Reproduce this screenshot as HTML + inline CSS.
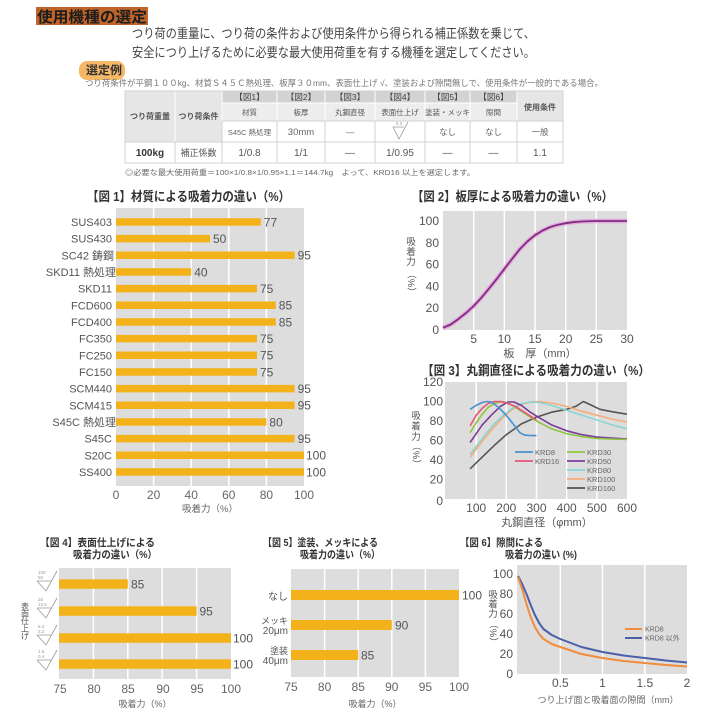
<!DOCTYPE html>
<html><head><meta charset="utf-8"><style>
html,body{margin:0;padding:0;background:#fff;}
svg{display:block;font-family:"Liberation Sans","Noto Sans CJK JP",sans-serif;}
</style></head><body>
<svg width="713" height="713" viewBox="0 0 713 713" xmlns="http://www.w3.org/2000/svg">
<rect width="713" height="713" fill="#fff"/>

<!-- Header -->
<rect x="36" y="7" width="112" height="18" fill="#c0652a"/>
<text x="37" y="22" font-size="15" font-weight="700" fill="#1c1c1c" textLength="110" lengthAdjust="spacingAndGlyphs">使用機種の選定</text>
<text x="132" y="38" font-size="13" fill="#444" textLength="403" lengthAdjust="spacingAndGlyphs">つり荷の重量に、つり荷の条件および使用条件から得られる補正係数を乗じて、</text>
<text x="132" y="57" font-size="13" fill="#444" textLength="403" lengthAdjust="spacingAndGlyphs">安全につり上げるために必要な最大使用荷重を有する機種を選定してください。</text>
<rect x="79" y="61" width="46" height="19" rx="8" fill="#f6b866"/>
<text x="86" y="74" font-size="11.5" font-weight="700" fill="#333" textLength="36" lengthAdjust="spacingAndGlyphs">選定例</text>
<text x="85" y="86" font-size="8.5" fill="#777" textLength="518" lengthAdjust="spacingAndGlyphs">つり荷条件が平鋼１００kg、材質Ｓ４５Ｃ熱処理、板厚３０mm、表面仕上げ √、塗装および隙間無しで、使用条件が一般的である場合。</text>

<!-- Table -->
<g>
<rect x="125" y="91" width="97" height="51" fill="#e6e6e6"/>
<rect x="222" y="91" width="295" height="12" fill="#d3d3d3"/>
<rect x="222" y="103" width="295" height="18" fill="#ededed"/>
<rect x="517" y="91" width="46" height="30" fill="#e6e6e6"/>
<g stroke="#fff" stroke-width="1">
<line x1="175" y1="91" x2="175" y2="142"/>
<line x1="222" y1="91" x2="222" y2="121"/>
<line x1="277" y1="91" x2="277" y2="121"/>
<line x1="325" y1="91" x2="325" y2="121"/>
<line x1="375" y1="91" x2="375" y2="121"/>
<line x1="425" y1="91" x2="425" y2="121"/>
<line x1="470" y1="91" x2="470" y2="121"/>
<line x1="517" y1="91" x2="517" y2="121"/>
<line x1="222" y1="103" x2="517" y2="103"/>
</g>
<g stroke="#d2d2d2" stroke-width="1" fill="none">
<rect x="125" y="91" width="438" height="72"/>
<line x1="125" y1="142" x2="563" y2="142"/>
<line x1="222" y1="121" x2="563" y2="121"/>
<line x1="175" y1="142" x2="175" y2="163"/>
<line x1="222" y1="121" x2="222" y2="163"/>
<line x1="277" y1="121" x2="277" y2="163"/>
<line x1="325" y1="121" x2="325" y2="163"/>
<line x1="375" y1="121" x2="375" y2="163"/>
<line x1="425" y1="121" x2="425" y2="163"/>
<line x1="470" y1="121" x2="470" y2="163"/>
<line x1="517" y1="121" x2="517" y2="163"/>
</g>
<g font-size="8.5" fill="#444" text-anchor="middle">
<text x="249.5" y="100">【図1】</text>
<text x="301" y="100">【図2】</text>
<text x="350" y="100">【図3】</text>
<text x="400" y="100">【図4】</text>
<text x="447.5" y="100">【図5】</text>
<text x="493.5" y="100">【図6】</text>
</g>
<g font-size="7.5" fill="#555" text-anchor="middle">
<text x="249.5" y="115">材質</text>
<text x="301" y="115">板厚</text>
<text x="350" y="115">丸鋼直径</text>
<text x="400" y="115">表面仕上げ</text>
<text x="447.5" y="115">塗装・メッキ</text>
<text x="493.5" y="115">隙間</text>
</g>
<g font-size="8" font-weight="700" fill="#555" text-anchor="middle">
<text x="150" y="119">つり荷重量</text>
<text x="198.5" y="119">つり荷条件</text>
<text x="540" y="110">使用条件</text>
</g>
<g font-size="8.5" fill="#666" text-anchor="middle">
<text x="249.5" y="135" font-size="7.5">S45C 熱処理</text>
<text x="301" y="135" font-size="9.5">30mm</text>
<text x="350" y="135">—</text>
<text x="447.5" y="135">なし</text>
<text x="493.5" y="135">なし</text>
<text x="540" y="135">一般</text>
</g>
<path d="M393,127 L399,139 L408,122 M393,127 L404,127" stroke="#999" stroke-width="0.8" fill="none"/>
<text x="396" y="125" font-size="4.5" fill="#999">6.3</text>
<g font-size="10" fill="#555" text-anchor="middle">
<text x="150" y="156" font-weight="700" fill="#333">100kg</text>
<text x="198.5" y="156" font-size="9">補正係数</text>
<text x="249.5" y="156">1/0.8</text>
<text x="301" y="156">1/1</text>
<text x="350" y="156">—</text>
<text x="400" y="156">1/0.95</text>
<text x="447.5" y="156">—</text>
<text x="493.5" y="156">—</text>
<text x="540" y="156">1.1</text>
</g>
<text x="125" y="175" font-size="7.5" fill="#666" textLength="350" lengthAdjust="spacingAndGlyphs">◎必要な最大使用荷重＝100×1/0.8×1/0.95×1.1＝144.7kg　よって、KRD16 以上を選定します。</text>
</g>

<!-- Fig 1 -->
<text x="87" y="201" font-size="13" font-weight="700" fill="#333" textLength="203" lengthAdjust="spacingAndGlyphs">【図 1】材質による吸着力の違い（%）</text>
<rect x="116" y="208" width="188" height="278" fill="#dddddd"/>
<g stroke="#fff" stroke-width="1.5">
<line x1="153.6" y1="208" x2="153.6" y2="486"/>
<line x1="191.2" y1="208" x2="191.2" y2="486"/>
<line x1="228.8" y1="208" x2="228.8" y2="486"/>
<line x1="266.4" y1="208" x2="266.4" y2="486"/>
</g>
<g fill="#f3b21a">
<rect x="116" y="218.2" width="144.8" height="7.5"/>
<rect x="116" y="234.9" width="94" height="7.5"/>
<rect x="116" y="251.5" width="178.6" height="7.5"/>
<rect x="116" y="268.2" width="75.2" height="7.5"/>
<rect x="116" y="284.9" width="141" height="7.5"/>
<rect x="116" y="301.5" width="159.8" height="7.5"/>
<rect x="116" y="318.2" width="159.8" height="7.5"/>
<rect x="116" y="334.9" width="141" height="7.5"/>
<rect x="116" y="351.5" width="141" height="7.5"/>
<rect x="116" y="368.2" width="141" height="7.5"/>
<rect x="116" y="384.9" width="178.6" height="7.5"/>
<rect x="116" y="401.5" width="178.6" height="7.5"/>
<rect x="116" y="418.2" width="150.4" height="7.5"/>
<rect x="116" y="434.9" width="178.6" height="7.5"/>
<rect x="116" y="451.5" width="188" height="7.5"/>
<rect x="116" y="468.2" width="188" height="7.5"/>
</g>
<g font-size="12" fill="#555">
<text x="263.8" y="226.3">77</text>
<text x="213" y="243">50</text>
<text x="297.6" y="259.6">95</text>
<text x="194.2" y="276.3">40</text>
<text x="260" y="293">75</text>
<text x="278.8" y="309.6">85</text>
<text x="278.8" y="326.3">85</text>
<text x="260" y="343">75</text>
<text x="260" y="359.6">75</text>
<text x="260" y="376.3">75</text>
<text x="297.6" y="393">95</text>
<text x="297.6" y="409.6">95</text>
<text x="269.4" y="426.3">80</text>
<text x="297.6" y="443">95</text>
<text x="306" y="459.6">100</text>
<text x="306" y="476.3">100</text>
</g>
<g font-size="11" fill="#555" text-anchor="end">
<text x="112" y="226">SUS403</text>
<text x="112" y="242.7">SUS430</text>
<text x="114" y="259.3">SC42 鋳鋼</text>
<text x="116" y="276">SKD11 熱処理</text>
<text x="112" y="292.7">SKD11</text>
<text x="112" y="309.3">FCD600</text>
<text x="112" y="326">FCD400</text>
<text x="112" y="342.7">FC350</text>
<text x="112" y="359.3">FC250</text>
<text x="112" y="376">FC150</text>
<text x="112" y="392.7">SCM440</text>
<text x="112" y="409.3">SCM415</text>
<text x="116" y="426">S45C 熱処理</text>
<text x="112" y="442.7">S45C</text>
<text x="112" y="459.3">S20C</text>
<text x="112" y="476">SS400</text>
</g>
<g font-size="12" fill="#666" text-anchor="middle">
<text x="116" y="499">0</text>
<text x="153.6" y="499">20</text>
<text x="191.2" y="499">40</text>
<text x="228.8" y="499">60</text>
<text x="266.4" y="499">80</text>
<text x="304" y="499">100</text>
</g>
<text x="210" y="512" font-size="9.5" fill="#666" text-anchor="middle">吸着力（%）</text>

<!-- Fig 2 -->
<text x="412" y="201" font-size="13" font-weight="700" fill="#333" textLength="201" lengthAdjust="spacingAndGlyphs">【図 2】板厚による吸着力の違い（%）</text>
<rect x="443" y="211" width="184" height="119" fill="#dddddd"/>
<g stroke="#fff" stroke-width="1.5">
<line x1="473.7" y1="211" x2="473.7" y2="330"/>
<line x1="504.3" y1="211" x2="504.3" y2="330"/>
<line x1="535" y1="211" x2="535" y2="330"/>
<line x1="565.7" y1="211" x2="565.7" y2="330"/>
<line x1="596.3" y1="211" x2="596.3" y2="330"/>
</g>
<polyline points="443,327.8 450.7,324.5 458.3,319.1 466,313 473.7,306 481.3,297.8 489,288.6 496.7,279 504.3,269 512,259 519.7,249.3 527.3,241.5 535,235.2 542.7,230.5 550.3,227 558,224.7 565.7,223.2 573.3,222.2 581,221.5 596.3,221 627,221" fill="none" stroke="#e6a8de" stroke-width="4.5" stroke-linejoin="round"/>
<polyline points="443,327.8 450.7,324.5 458.3,319.1 466,313 473.7,306 481.3,297.8 489,288.6 496.7,279 504.3,269 512,259 519.7,249.3 527.3,241.5 535,235.2 542.7,230.5 550.3,227 558,224.7 565.7,223.2 573.3,222.2 581,221.5 596.3,221 627,221" fill="none" stroke="#7d2f7d" stroke-width="1.8" stroke-linejoin="round"/>
<g font-size="12" fill="#555" text-anchor="end">
<text x="439" y="225">100</text>
<text x="439" y="246.8">80</text>
<text x="439" y="268.6">60</text>
<text x="439" y="290.4">40</text>
<text x="439" y="312.2">20</text>
<text x="439" y="334">0</text>
</g>
<g font-size="12" fill="#555" text-anchor="middle">
<text x="473.7" y="343">5</text>
<text x="504.3" y="343">10</text>
<text x="535" y="343">15</text>
<text x="565.7" y="343">20</text>
<text x="596.3" y="343">25</text>
<text x="627" y="343">30</text>
</g>
<text x="540" y="357" font-size="11" fill="#555" text-anchor="middle">板　厚（mm）</text>
<g font-size="9.5" fill="#555" text-anchor="middle">
<text x="411" y="245">吸</text>
<text x="411" y="255">着</text>
<text x="411" y="265">力</text>
<text transform="translate(411,283) rotate(90)" y="3">（%）</text>
</g>

<!-- Fig 3 -->
<text x="422" y="375" font-size="13" font-weight="700" fill="#333" textLength="228" lengthAdjust="spacingAndGlyphs">【図 3】丸鋼直径による吸着力の違い（%）</text>
<rect x="445" y="382" width="182" height="117" fill="#dddddd"/>
<g stroke="#fff" stroke-width="1.5">
<line x1="476.2" y1="382" x2="476.2" y2="499"/>
<line x1="506.3" y1="382" x2="506.3" y2="499"/>
<line x1="536.5" y1="382" x2="536.5" y2="499"/>
<line x1="566.7" y1="382" x2="566.7" y2="499"/>
<line x1="596.9" y1="382" x2="596.9" y2="499"/>
</g>
<g fill="none" stroke-width="1.6" stroke-linejoin="round">
<polyline stroke="#555555" points="470.1,468.8 482.2,457.1 494.3,445.4 506.3,434.7 521.4,423.9 536.5,417.1 551.6,412.2 566.7,409.3 575.7,406.4 583.3,401.5 587.8,403.5 593.8,406.4 599.9,409.3 611.9,411.7 627,414.2"/>
<polyline stroke="#f6ab7d" points="470.1,457.1 476.2,449.3 485.2,437.6 494.3,426.9 503.3,417.1 512.4,409.3 521.4,404.4 530.5,402 539.5,401.5 551.6,403 566.7,406.4 581.8,411.3 596.9,415.2 611.9,419.1 627,422"/>
<polyline stroke="#8ad4d4" points="470.1,454.2 476.2,446.4 485.2,434.7 494.3,423.9 503.3,415.2 512.4,408.3 521.4,403.5 530.5,402 539.5,402.5 551.6,405.4 566.7,410.3 581.8,415.2 596.9,420 611.9,424.9 627,428.8"/>
<polyline stroke="#7a3d9a" points="470.1,442.5 476.2,433.7 482.2,424.9 491.3,415.2 500.3,406.4 507.8,402 513.9,402 521.4,405.4 529,411.3 536.5,416.1 551.6,424.9 566.7,430.8 581.8,434.7 596.9,437.1 627,439"/>
<polyline stroke="#8dc63f" points="470.1,432.7 476.2,423 482.2,414.2 488.2,407.4 494.3,403.5 501.8,401.5 509.4,403.5 518.4,409.3 527.5,415.2 536.5,421 551.6,428.8 566.7,433.7 581.8,436.6 596.9,438.6 627,439.5"/>
<polyline stroke="#e8557a" points="470.1,425.9 476.2,415.2 482.2,408.3 488.2,403.5 494.3,401.5 500.3,401.5 506.3,403 515.4,406.4 524.4,412.2 536.5,420"/>
<polyline stroke="#4a90d0" points="470.1,409.3 476.2,405.4 482.2,402.5 486.7,401.5 491.3,402 497.3,406.4 503.3,412.2 509.4,419.1 515.4,426.9 519.9,432.7 524.4,435.1 530.5,435.6 536.5,435.6"/>
</g>
<g stroke-width="1.8">
<line x1="515" y1="452" x2="533" y2="452" stroke="#4a90d0"/>
<line x1="515" y1="461" x2="533" y2="461" stroke="#e8557a"/>
<line x1="567" y1="452" x2="585" y2="452" stroke="#8dc63f"/>
<line x1="567" y1="461" x2="585" y2="461" stroke="#7a3d9a"/>
<line x1="567" y1="470" x2="585" y2="470" stroke="#8ad4d4"/>
<line x1="567" y1="479" x2="585" y2="479" stroke="#f6ab7d"/>
<line x1="567" y1="488" x2="585" y2="488" stroke="#555555"/>
</g>
<g font-size="7.5" fill="#666">
<text x="535" y="455">KRD8</text>
<text x="535" y="464">KRD16</text>
<text x="587" y="455">KRD30</text>
<text x="587" y="464">KRD50</text>
<text x="587" y="473">KRD80</text>
<text x="587" y="482">KRD100</text>
<text x="587" y="491">KRD160</text>
</g>
<g font-size="12" fill="#555" text-anchor="end">
<text x="443" y="386">120</text>
<text x="443" y="405.5">100</text>
<text x="443" y="425">80</text>
<text x="443" y="444.5">60</text>
<text x="443" y="464">40</text>
<text x="443" y="483.5">20</text>
<text x="443" y="505">0</text>
</g>
<g font-size="12" fill="#555" text-anchor="middle">
<text x="476.2" y="512">100</text>
<text x="506.3" y="512">200</text>
<text x="536.5" y="512">300</text>
<text x="566.7" y="512">400</text>
<text x="596.9" y="512">500</text>
<text x="627" y="512">600</text>
</g>
<text x="547" y="526" font-size="11" fill="#555" text-anchor="middle">丸鋼直径（φmm）</text>
<g font-size="9.5" fill="#555" text-anchor="middle">
<text x="416" y="419">吸</text>
<text x="416" y="429.5">着</text>
<text x="416" y="440">力</text>
<text transform="translate(416,455) rotate(90)" y="3">（%）</text>
</g>

<!-- Fig 4 -->
<text x="40" y="546" font-size="10.5" font-weight="700" fill="#333" textLength="115" lengthAdjust="spacingAndGlyphs">【図 4】表面仕上げによる</text>
<text x="73" y="558" font-size="10.5" font-weight="700" fill="#333" textLength="84" lengthAdjust="spacingAndGlyphs">吸着力の違い（%）</text>
<rect x="59" y="568" width="172" height="111" fill="#dddddd"/>
<g stroke="#fff" stroke-width="1.5">
<line x1="93.4" y1="568" x2="93.4" y2="679"/>
<line x1="127.8" y1="568" x2="127.8" y2="679"/>
<line x1="162.2" y1="568" x2="162.2" y2="679"/>
<line x1="196.6" y1="568" x2="196.6" y2="679"/>
</g>
<g fill="#f3b21a">
<rect x="59" y="579.3" width="68.8" height="9.5"/>
<rect x="59" y="606.3" width="137.6" height="9.5"/>
<rect x="59" y="633.3" width="172" height="9.5"/>
<rect x="59" y="659.3" width="172" height="9.5"/>
</g>
<g font-size="12" fill="#555">
<text x="131" y="588.5">85</text>
<text x="199.5" y="615.5">95</text>
<text x="233" y="642.5">100</text>
<text x="233" y="668.5">100</text>
</g>
<g stroke="#999" stroke-width="0.8" fill="none">
<path d="M37,581 L46,591 L57,571 M37,581 L51,581"/>
<path d="M37,608 L46,618 L57,598 M37,608 L51,608"/>
<path d="M37,635 L46,645 L57,625 M37,635 L51,635"/>
<path d="M37,660 L46,670 L57,650 M37,660 L51,660"/>
</g>
<g font-size="4.5" fill="#999">
<text x="38" y="574">100</text><text x="38" y="579">50</text>
<text x="38" y="601">25</text><text x="38" y="606">12.5</text>
<text x="38" y="628">6.3</text><text x="38" y="633">3.2</text>
<text x="38" y="653">1.6</text><text x="38" y="658">0.4</text>
</g>
<g font-size="8" fill="#555" text-anchor="middle">
<text x="25" y="609">表</text>
<text x="25" y="616.5">面</text>
<text x="25" y="624">仕</text>
<text x="25" y="631.5">上</text>
<text x="25" y="639">げ</text>
</g>
<g font-size="12" fill="#666" text-anchor="middle">
<text x="60" y="693">75</text>
<text x="94" y="693">80</text>
<text x="128" y="693">85</text>
<text x="163" y="693">90</text>
<text x="197" y="693">95</text>
<text x="231" y="693">100</text>
</g>
<text x="145" y="707" font-size="9" fill="#666" text-anchor="middle">吸着力（%）</text>

<!-- Fig 5 -->
<text x="263" y="546" font-size="10.5" font-weight="700" fill="#333" textLength="115" lengthAdjust="spacingAndGlyphs">【図 5】塗装、メッキによる</text>
<text x="300" y="558" font-size="10.5" font-weight="700" fill="#333" textLength="80" lengthAdjust="spacingAndGlyphs">吸着力の違い（%）</text>
<rect x="291" y="569" width="168" height="108" fill="#dddddd"/>
<g stroke="#fff" stroke-width="1.5">
<line x1="324.6" y1="569" x2="324.6" y2="677"/>
<line x1="358.2" y1="569" x2="358.2" y2="677"/>
<line x1="391.8" y1="569" x2="391.8" y2="677"/>
<line x1="425.4" y1="569" x2="425.4" y2="677"/>
</g>
<g fill="#f3b21a">
<rect x="291" y="590" width="168" height="10"/>
<rect x="291" y="620" width="100.8" height="10"/>
<rect x="291" y="650" width="67.2" height="10"/>
</g>
<g font-size="12" fill="#555">
<text x="462" y="599.5">100</text>
<text x="395" y="629.5">90</text>
<text x="361" y="659.5">85</text>
</g>
<g fill="#555" text-anchor="end">
<text x="288" y="600" font-size="10">なし</text>
<text x="288" y="624" font-size="9">メッキ</text>
<text x="288" y="634" font-size="10">20μm</text>
<text x="288" y="654" font-size="9">塗装</text>
<text x="288" y="664" font-size="10">40μm</text>
</g>
<g font-size="12" fill="#666" text-anchor="middle">
<text x="291" y="691">75</text>
<text x="324.6" y="691">80</text>
<text x="358.2" y="691">85</text>
<text x="391.8" y="691">90</text>
<text x="425.4" y="691">95</text>
<text x="459" y="691">100</text>
</g>
<text x="375" y="707" font-size="9" fill="#666" text-anchor="middle">吸着力（%）</text>

<!-- Fig 6 -->
<text x="460" y="546" font-size="10.5" font-weight="700" fill="#333" textLength="83" lengthAdjust="spacingAndGlyphs">【図 6】隙間による</text>
<text x="505" y="558" font-size="10.5" font-weight="700" fill="#333" textLength="72" lengthAdjust="spacingAndGlyphs">吸着力の違い (%)</text>
<rect x="517" y="565" width="170" height="109" fill="#dddddd"/>
<g stroke="#fff" stroke-width="1.5">
<line x1="560.3" y1="565" x2="560.3" y2="674"/>
<line x1="602.5" y1="565" x2="602.5" y2="674"/>
<line x1="644.8" y1="565" x2="644.8" y2="674"/>
</g>
<g fill="none" stroke-width="2" stroke-linejoin="round">
<polyline stroke="#4b5ea8" points="518,576 522.2,584 526.5,594 530.7,605 534.9,615 539.1,623 543.4,629 551.8,635 560.3,639 581.4,647 602.5,652 623.6,655.5 644.8,658 665.9,660.5 687,662.5"/>
<polyline stroke="#f08c3c" points="518,577 522.2,589 526.5,604 530.7,617 534.9,627 539.1,634 543.4,639 551.8,644 560.3,647 581.4,654 602.5,658 623.6,661 644.8,663 665.9,665 687,666.5"/>
</g>
<line x1="625" y1="629" x2="642" y2="629" stroke="#f08c3c" stroke-width="2"/>
<line x1="625" y1="638" x2="642" y2="638" stroke="#4b5ea8" stroke-width="2"/>
<g font-size="7" fill="#666">
<text x="645" y="631.5">KRD8</text>
<text x="645" y="640.5">KRD8 以外</text>
</g>
<g font-size="12" fill="#555" text-anchor="end">
<text x="513" y="578">100</text>
<text x="513" y="598">80</text>
<text x="513" y="618">60</text>
<text x="513" y="638">40</text>
<text x="513" y="658">20</text>
<text x="513" y="678">0</text>
</g>
<g font-size="12" fill="#555" text-anchor="middle">
<text x="560.3" y="687">0.5</text>
<text x="602.5" y="687">1</text>
<text x="644.8" y="687">1.5</text>
<text x="687" y="687">2</text>
</g>
<text x="608" y="703" font-size="9" fill="#666" text-anchor="middle">つり上げ面と吸着面の隙間（mm）</text>
<g font-size="9.5" fill="#555" text-anchor="middle">
<text x="493" y="598">吸</text>
<text x="493" y="607.5">着</text>
<text x="493" y="617">力</text>
<text transform="translate(493,633) rotate(90)" y="3">（%）</text>
</g>
</svg>
</body></html>
